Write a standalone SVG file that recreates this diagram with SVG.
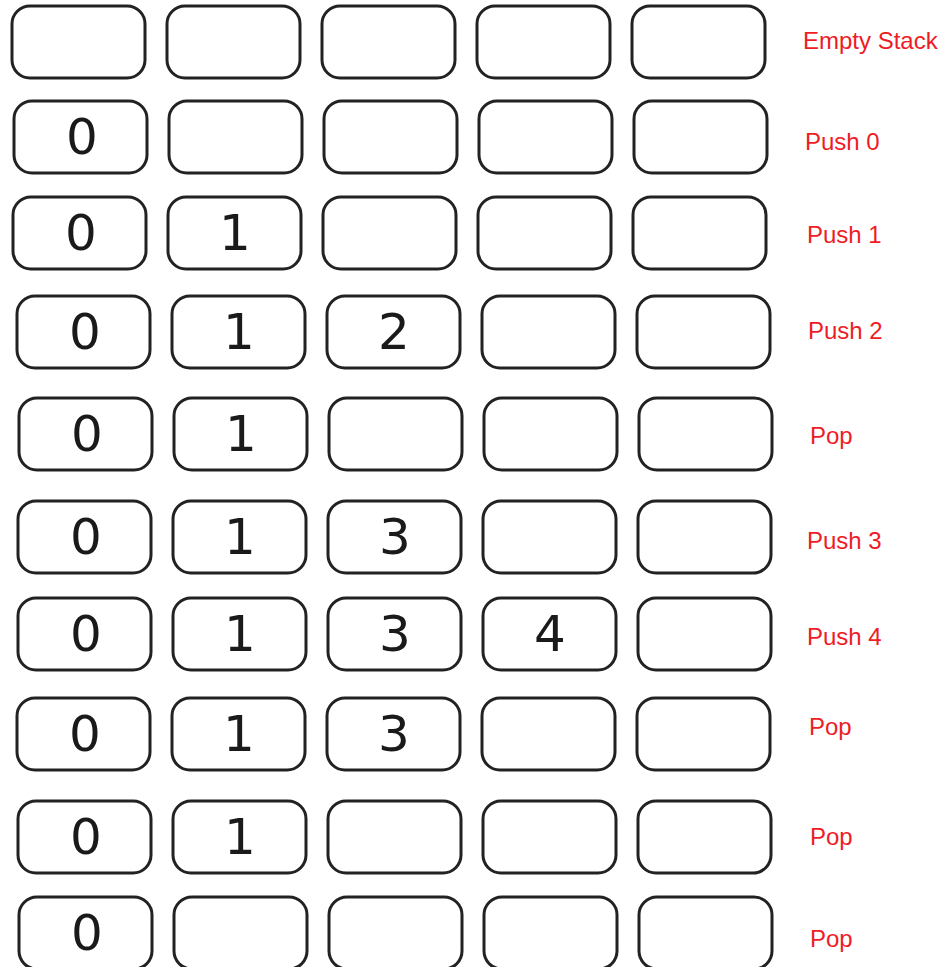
<svg xmlns="http://www.w3.org/2000/svg" width="949" height="967" viewBox="0 0 949 967">
<style>
.b{fill:#fff;stroke:#222;stroke-width:3}
.d{font-family:"DejaVu Sans",sans-serif;font-size:50px;fill:#1a1a1a;text-anchor:middle}
.l{font-family:"Liberation Sans",Arial,sans-serif;font-size:24px;fill:#ee1c25}
</style>
<defs>
<rect id="box" class="b" width="133" height="72" rx="18" ry="18"/>
</defs>
<rect width="949" height="967" fill="#fff"/>
<g id="row1" transform="translate(12,6)">
<use href="#box" x="0"/><use href="#box" x="155"/><use href="#box" x="310"/><use href="#box" x="465"/><use href="#box" x="620"/>
</g>
<g id="row2" transform="translate(14,101)">
<use href="#box" x="0"/><use href="#box" x="155"/><use href="#box" x="310"/><use href="#box" x="465"/><use href="#box" x="620"/>
<text class="d" x="68" y="53">0</text>
</g>
<g id="row3" transform="translate(13,197)">
<use href="#box" x="0"/><use href="#box" x="155"/><use href="#box" x="310"/><use href="#box" x="465"/><use href="#box" x="620"/>
<text class="d" x="68" y="53">0</text><text class="d" x="222" y="53">1</text>
</g>
<g id="row4" transform="translate(17,296)">
<use href="#box" x="0"/><use href="#box" x="155"/><use href="#box" x="310"/><use href="#box" x="465"/><use href="#box" x="620"/>
<text class="d" x="68" y="53">0</text><text class="d" x="222" y="53">1</text><text class="d" x="377" y="53">2</text>
</g>
<g id="row5" transform="translate(19,398)">
<use href="#box" x="0"/><use href="#box" x="155"/><use href="#box" x="310"/><use href="#box" x="465"/><use href="#box" x="620"/>
<text class="d" x="68" y="53">0</text><text class="d" x="222" y="53">1</text>
</g>
<g id="row6" transform="translate(18,501)">
<use href="#box" x="0"/><use href="#box" x="155"/><use href="#box" x="310"/><use href="#box" x="465"/><use href="#box" x="620"/>
<text class="d" x="68" y="53">0</text><text class="d" x="222" y="53">1</text><text class="d" x="377" y="53">3</text>
</g>
<g id="row7" transform="translate(18,598)">
<use href="#box" x="0"/><use href="#box" x="155"/><use href="#box" x="310"/><use href="#box" x="465"/><use href="#box" x="620"/>
<text class="d" x="68" y="53">0</text><text class="d" x="222" y="53">1</text><text class="d" x="377" y="53">3</text><text class="d" x="532" y="53">4</text>
</g>
<g id="row8" transform="translate(17,698)">
<use href="#box" x="0"/><use href="#box" x="155"/><use href="#box" x="310"/><use href="#box" x="465"/><use href="#box" x="620"/>
<text class="d" x="68" y="53">0</text><text class="d" x="222" y="53">1</text><text class="d" x="377" y="53">3</text>
</g>
<g id="row9" transform="translate(18,801)">
<use href="#box" x="0"/><use href="#box" x="155"/><use href="#box" x="310"/><use href="#box" x="465"/><use href="#box" x="620"/>
<text class="d" x="68" y="53">0</text><text class="d" x="222" y="53">1</text>
</g>
<g id="row10" transform="translate(19,897)">
<use href="#box" x="0"/><use href="#box" x="155"/><use href="#box" x="310"/><use href="#box" x="465"/><use href="#box" x="620"/>
<text class="d" x="68" y="53">0</text>
</g>
<g id="labels">
<text class="l" x="803" y="49">Empty Stack</text>
<text class="l" x="805" y="150">Push 0</text>
<text class="l" x="807" y="243">Push 1</text>
<text class="l" x="808" y="339">Push 2</text>
<text class="l" x="810" y="444">Pop</text>
<text class="l" x="807" y="549">Push 3</text>
<text class="l" x="807" y="645">Push 4</text>
<text class="l" x="809" y="735">Pop</text>
<text class="l" x="810" y="845">Pop</text>
<text class="l" x="810" y="947">Pop</text>
</g>
</svg>
